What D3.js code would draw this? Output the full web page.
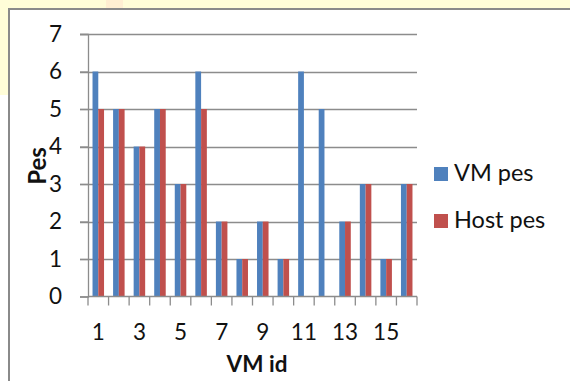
<!DOCTYPE html>
<html>
<head>
<meta charset="utf-8">
<script src="https://cdn.jsdelivr.net/npm/d3@7"></script>
<style>
  html, body { margin: 0; padding: 0; background: #ffffff; }
  svg { display: block; }
  text { font-family: Lato, "Open Sans", sans-serif; fill: #111; }
</style>
</head>
<body>
<svg id="chart" width="570" height="381"></svg>
<script>
// VM id categories and PE counts per series
const vmIds = ["1","2","3","4","5","6","7","8","9","10","11","12","13","14","15","16"];
const vmPes   = [6, 5, 4, 5, 3, 6, 2, 1, 2, 1, 6, 5, 2, 3, 1, 3];
const hostPes = [5, 5, 4, 5, 3, 5, 2, 1, 2, 1, 0, 0, 2, 3, 1, 3];
const seriesNames = ["VM pes", "Host pes"];
const seriesColors = ["#4F81BD", "#C0504D"];
const yTicks = [0, 1, 2, 3, 4, 5, 6, 7];
const xTickLabels = ["1","3","5","7","9","11","13","15"];

const svg = d3.select("#chart");

// page backdrop: pale yellow band at top and top-left
svg.append("rect").attr("x", 0).attr("y", 0).attr("width", 570).attr("height", 10).attr("fill", "#FFFDD8");
svg.append("rect").attr("x", 0).attr("y", 0).attr("width", 10).attr("height", 95).attr("fill", "#FFFDD8");
svg.append("rect").attr("x", 106).attr("y", 0).attr("width", 17).attr("height", 8).attr("fill", "#FFEFD2");

// chart frame
svg.append("rect")
  .attr("x", 9).attr("y", 9).attr("width", 600).attr("height", 400)
  .attr("fill", "#ffffff").attr("stroke", "#8a8a8a").attr("stroke-width", 2);

const plot = { left: 88, right: 417, top: 34, bottom: 296.5 };

const x = d3.scaleBand().domain(vmIds).range([plot.left, plot.right]).padding(0);
const y = d3.scaleLinear().domain([0, 7]).range([plot.bottom, plot.top]);
const inset = x.bandwidth() * 0.22;
const xs = d3.scaleBand().domain(seriesNames).range([inset, x.bandwidth() - inset]).padding(0);

// horizontal gridlines with left tick stubs
svg.append("g").selectAll("line").data(yTicks.filter(d => d > 0)).join("line")
  .attr("x1", plot.left - 8).attr("x2", plot.right)
  .attr("y1", d => Math.round(y(d)) + 0.5).attr("y2", d => Math.round(y(d)) + 0.5)
  .attr("stroke", "#8c8c8c").attr("stroke-width", 1.3);

// bars
const rows = vmIds.map((id, i) => ({ id, vals: [vmPes[i], hostPes[i]] }));
const groups = svg.append("g").selectAll("g").data(rows).join("g")
  .attr("transform", d => `translate(${x(d.id)},0)`);
groups.selectAll("rect")
  .data(d => d.vals.map((v, k) => ({ v, k })).filter(e => e.v > 0))
  .join("rect")
  .attr("x", e => xs(seriesNames[e.k]))
  .attr("width", xs.bandwidth())
  .attr("y", e => y(e.v))
  .attr("height", e => y(0) - y(e.v))
  .attr("fill", e => seriesColors[e.k]);

// y axis
const yAxis = svg.append("g").attr("transform", `translate(${plot.left},0)`)
  .call(d3.axisLeft(y).tickValues(yTicks).tickSize(8).tickPadding(18).tickFormat(d3.format("d")));
yAxis.select(".domain").attr("stroke", "#8c8c8c").attr("stroke-width", 1.3);
yAxis.selectAll(".tick line").attr("stroke", "#8c8c8c").attr("stroke-width", 1.3);
yAxis.selectAll("text").attr("font-size", 22.5).attr("fill", "#111")
  .style("font-family", "Lato, sans-serif");

// x axis: ticks on category boundaries
const boundaries = vmIds.map(id => x(id)).concat([plot.right]);
svg.append("line").attr("x1", plot.left).attr("x2", plot.right)
  .attr("y1", plot.bottom).attr("y2", plot.bottom)
  .attr("stroke", "#8c8c8c").attr("stroke-width", 1.3);
svg.append("g").selectAll("line").data(boundaries).join("line")
  .attr("x1", d => d).attr("x2", d => d)
  .attr("y1", plot.bottom).attr("y2", plot.bottom + 9)
  .attr("stroke", "#8c8c8c").attr("stroke-width", 1.3);
svg.append("g").selectAll("text").data(xTickLabels).join("text")
  .attr("x", d => x(d) + x.bandwidth() / 2)
  .attr("y", 340)
  .attr("text-anchor", "middle")
  .attr("font-size", 22.5)
  .text(d => d);

// axis titles
svg.append("text").attr("x", 257).attr("y", 372).attr("text-anchor", "middle")
  .attr("font-size", 22.5).attr("font-weight", "bold").text("VM id");
svg.append("text").attr("transform", "translate(46,166) rotate(-90)").attr("text-anchor", "middle")
  .attr("font-size", 24).attr("font-weight", "bold").text("Pes");

// legend
const legend = svg.append("g").selectAll("g").data(seriesNames).join("g")
  .attr("transform", (d, i) => `translate(434,${167 + i * 47})`);
legend.append("rect").attr("width", 14).attr("height", 14).attr("fill", (d, i) => seriesColors[i]);
legend.append("text").attr("x", 20).attr("y", 14).attr("font-size", 23.5).text(d => d);
</script>
</body>
</html>
